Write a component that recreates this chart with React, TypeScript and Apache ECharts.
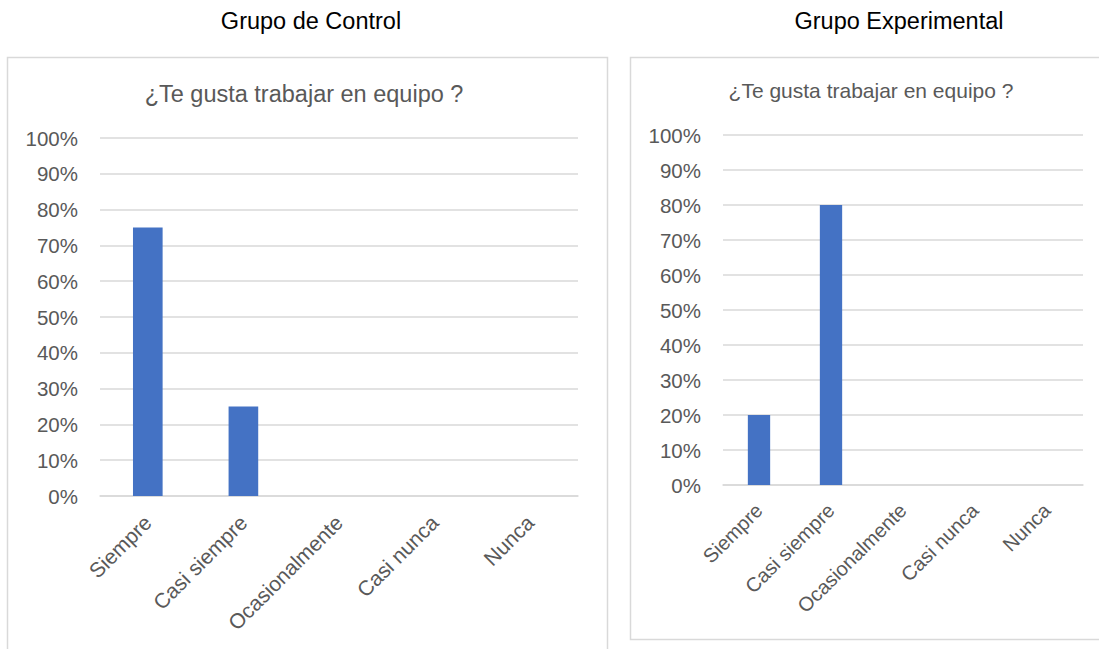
import React, { useEffect, useRef } from "react";
import * as echarts from "echarts";

const categories = ["Siempre", "Casi siempre", "Ocasionalmente", "Casi nunca", "Nunca"];
const controlValues = [75, 25, 0, 0, 0];
const experimentalValues = [20, 80, 0, 0, 0];
const yTicks = [0, 10, 20, 30, 40, 50, 60, 70, 80, 90, 100];

const chartTitle = "¿Te gusta trabajar en equipo ?";
const controlHeader = "Grupo de Control";
const experimentalHeader = "Grupo Experimental";

const FONT = "'Liberation Sans', Arial, sans-serif";
const TEXT_GREY = "#595959";
const GRID_GREY = "#d9d9d9";
const BAR_BLUE = "#4472c4";

function yAxisFor(gridIndex: number, fontSize: number) {
  return {
    type: "value",
    gridIndex,
    min: yTicks[0],
    max: yTicks[yTicks.length - 1],
    interval: yTicks[1] - yTicks[0],
    axisLine: { show: false },
    axisTick: { show: false },
    axisLabel: {
      formatter: (v: number) => `${v}%`,
      color: TEXT_GREY,
      fontFamily: FONT,
      fontSize,
      margin: 22,
    },
    splitLine: { lineStyle: { color: GRID_GREY, width: 1.5 } },
  };
}

function xAxisFor(gridIndex: number, fontSize: number, margin: number) {
  return {
    type: "category",
    gridIndex,
    data: categories,
    axisLine: { lineStyle: { color: GRID_GREY, width: 1.5 } },
    axisTick: { show: false },
    axisLabel: {
      rotate: 45,
      interval: 0,
      color: TEXT_GREY,
      fontFamily: FONT,
      fontSize,
      margin,
    },
  };
}

export default function App() {
  const ref = useRef<HTMLDivElement>(null);

  useEffect(() => {
    if (!ref.current) return;
    const chart = echarts.init(ref.current, null, { renderer: "svg" });
    chart.setOption({
      animation: false,
      backgroundColor: "#ffffff",
      grid: [
        { left: 100, top: 138, width: 478, height: 358 },
        { left: 723, top: 135, width: 360, height: 350 },
      ],
      xAxis: [xAxisFor(0, 21, 23), xAxisFor(1, 20, 22)],
      yAxis: [yAxisFor(0, 20.5), yAxisFor(1, 20.5)],
      series: [
        {
          type: "bar",
          xAxisIndex: 0,
          yAxisIndex: 0,
          data: controlValues,
          barWidth: "31%",
          itemStyle: { color: BAR_BLUE },
        },
        {
          type: "bar",
          xAxisIndex: 1,
          yAxisIndex: 1,
          data: experimentalValues,
          barWidth: "31%",
          itemStyle: { color: BAR_BLUE },
        },
      ],
      graphic: [
        // panel frames
        {
          type: "rect",
          z: -1,
          shape: { x: 7.5, y: 57.5, width: 600, height: 620 },
          style: { fill: "none", stroke: GRID_GREY, lineWidth: 1.5 },
        },
        {
          type: "rect",
          z: -1,
          shape: { x: 630.5, y: 57.5, width: 500, height: 582 },
          style: { fill: "none", stroke: GRID_GREY, lineWidth: 1.5 },
        },
        // group headers
        {
          type: "text",
          x: 311,
          y: 21,
          style: {
            text: controlHeader,
            fill: "#000000",
            font: `23.5px ${FONT}`,
            textAlign: "center",
            textVerticalAlign: "middle",
          },
        },
        {
          type: "text",
          x: 899,
          y: 21,
          style: {
            text: experimentalHeader,
            fill: "#000000",
            font: `23.5px ${FONT}`,
            textAlign: "center",
            textVerticalAlign: "middle",
          },
        },
        // chart titles
        {
          type: "text",
          x: 304,
          y: 94,
          style: {
            text: chartTitle,
            fill: TEXT_GREY,
            font: `23.5px ${FONT}`,
            textAlign: "center",
            textVerticalAlign: "middle",
          },
        },
        {
          type: "text",
          x: 871,
          y: 90,
          style: {
            text: chartTitle,
            fill: TEXT_GREY,
            font: `21px ${FONT}`,
            textAlign: "center",
            textVerticalAlign: "middle",
          },
        },
      ],
    });
    return () => chart.dispose();
  }, []);

  return (
    <div
      ref={ref}
      style={{ position: "fixed", left: 0, top: 0, width: 1099, height: 649, background: "#fff" }}
    />
  );
}
